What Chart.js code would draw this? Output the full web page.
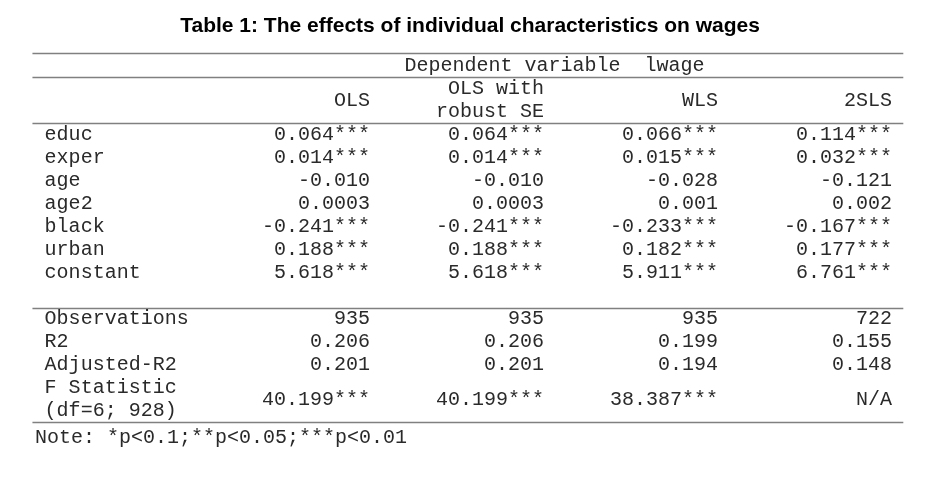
<!DOCTYPE html>
<html>
<head>
<meta charset="utf-8">
<script src="https://cdn.jsdelivr.net/npm/chart.js"></script>
<style>
  html, body { margin: 0; padding: 0; background: #fff; }
  #wrap { width: 926px; height: 482px; }
</style>
</head>
<body>
<div id="wrap"><canvas id="tableChart"></canvas></div>
<script>
// 表格数据
const tableTitle = 'Table 1: The effects of individual characteristics on wages';
const depVarHeader = 'Dependent variable  lwage';
const columnNames = ['OLS', 'OLS with\nrobust SE', 'WLS', '2SLS'];
const rowLabels = ['educ', 'exper', 'age', 'age2', 'black', 'urban', 'constant'];
const olsValues = ['0.064***', '0.014***', '-0.010', '0.0003', '-0.241***', '0.188***', '5.618***'];
const olsRobustValues = ['0.064***', '0.014***', '-0.010', '0.0003', '-0.241***', '0.188***', '5.618***'];
const wlsValues = ['0.066***', '0.015***', '-0.028', '0.001', '-0.233***', '0.182***', '5.911***'];
const tslsValues = ['0.114***', '0.032***', '-0.121', '0.002', '-0.167***', '0.177***', '6.761***'];
const statLabels = ['Observations', 'R2', 'Adjusted-R2', 'F Statistic\n(df=6; 928)'];
const olsStats = ['935', '0.206', '0.201', '40.199***'];
const olsRobustStats = ['935', '0.206', '0.201', '40.199***'];
const wlsStats = ['935', '0.199', '0.194', '38.387***'];
const tslsStats = ['722', '0.155', '0.148', 'N/A'];
const noteText = 'Note: *p<0.1;**p<0.05;***p<0.01';

// 版式（行单位 / 列单位）
const bodyRows = [0, 1, 2, 3, 4, 5, 6];
const statRows = [8, 9, 10, 11.5];
const headerRow = -1.5;
const depVarRow = -3;
const titleRow = -4.75;
const noteRow = 13.15;
const ruleRows = [-3.57, -2.52, -0.52, 7.5, 12.5];
const labelCol = -1.87;
const noteCol = -1.925;
const ruleFrom = -1.94;
const ruleTo = 3.065;

const monoFont = '20px "Liberation Mono", "Courier New", monospace';

function columnDataset(name, values, stats, col) {
    const rows = bodyRows.concat(statRows);
    return {
        label: name,
        data: rows.map(r => ({ x: col, y: r })),
        texts: values.concat(stats),
        align: 'right',
        pointRadius: 0
    };
}

const datasets = [
    {
        label: 'labels',
        data: bodyRows.concat(statRows).map(r => ({ x: labelCol, y: r })),
        texts: rowLabels.concat(statLabels),
        align: 'left',
        pointRadius: 0
    },
    columnDataset('OLS', olsValues, olsStats, 0),
    columnDataset('OLS robust', olsRobustValues, olsRobustStats, 1),
    columnDataset('WLS', wlsValues, wlsStats, 2),
    columnDataset('2SLS', tslsValues, tslsStats, 3),
    {
        label: 'headers',
        data: columnNames.map((_, i) => ({ x: i, y: headerRow })),
        texts: columnNames,
        align: 'right',
        pointRadius: 0
    },
    {
        label: 'depvar',
        data: [{ x: 1.06, y: depVarRow }],
        texts: [depVarHeader],
        align: 'center',
        pointRadius: 0
    },
    {
        label: 'note',
        data: [{ x: noteCol, y: noteRow }],
        texts: [noteText],
        align: 'left',
        pointRadius: 0
    }
];

// 画表格文字和横线
const tablePlugin = {
    id: 'tableText',
    afterDatasetsDraw(chart) {
        const ctx = chart.ctx;
        const xs = chart.scales.x;
        const ys = chart.scales.y;
        const lineH = ys.getPixelForValue(1) - ys.getPixelForValue(0);

        ctx.save();
        ctx.strokeStyle = '#808080';
        ctx.lineWidth = 1.5;
        ruleRows.forEach(r => {
            const py = Math.round(ys.getPixelForValue(r)) + 0.5;
            ctx.beginPath();
            ctx.moveTo(xs.getPixelForValue(ruleFrom), py);
            ctx.lineTo(xs.getPixelForValue(ruleTo), py);
            ctx.stroke();
        });

        ctx.fillStyle = '#000';
        ctx.font = 'bold 21px "Liberation Sans", Arial, sans-serif';
        ctx.textAlign = 'center';
        ctx.textBaseline = 'middle';
        ctx.fillText(tableTitle, xs.getPixelForValue(0.575), ys.getPixelForValue(titleRow));

        ctx.font = monoFont;
        ctx.fillStyle = '#2a2a2a';
        chart.data.datasets.forEach((ds, di) => {
            const meta = chart.getDatasetMeta(di);
            ctx.textAlign = ds.align;
            meta.data.forEach((pt, i) => {
                const lines = String(ds.texts[i]).split('\n');
                const start = pt.y - (lines.length - 1) * lineH / 2;
                lines.forEach((ln, k) => {
                    ctx.fillText(ln, pt.x, start + k * lineH);
                });
            });
        });
        ctx.restore();
    }
};

new Chart(document.getElementById('tableChart'), {
    type: 'scatter',
    data: { datasets: datasets },
    options: {
        responsive: true,
        maintainAspectRatio: false,
        animation: false,
        events: [],
        layout: { padding: 0 },
        plugins: {
            legend: { display: false },
            tooltip: { enabled: false }
        },
        scales: {
            x: { type: 'linear', display: false, min: -370 / 174, max: 556 / 174 },
            y: { type: 'linear', display: false, reverse: true, min: -135 / 23, max: 347 / 23 }
        }
    },
    plugins: [tablePlugin]
});
</script>
</body>
</html>
